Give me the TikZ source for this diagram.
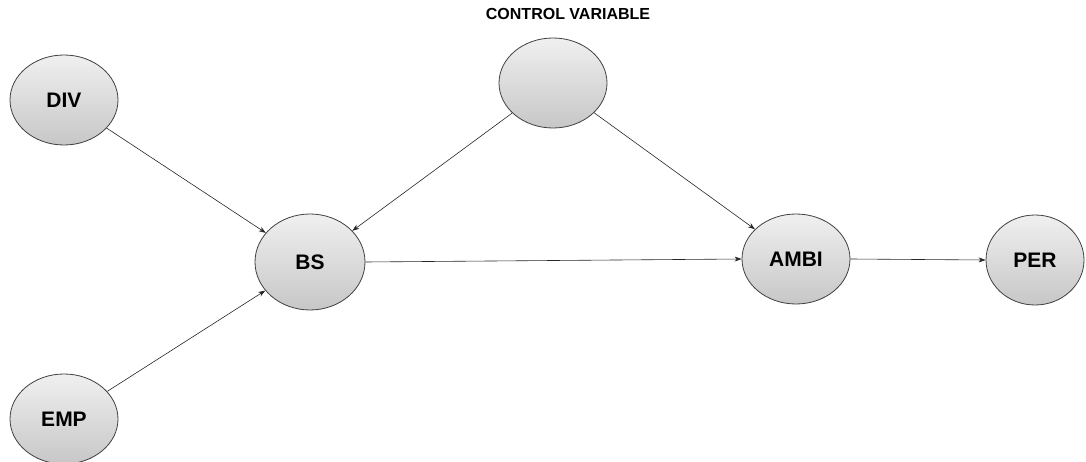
\documentclass[tikz,border=0pt]{standalone}
\usepackage{fontspec}
\setmainfont{Liberation Sans}
\usetikzlibrary{shapes.geometric,arrows.meta}
\begin{document}
\begin{tikzpicture}[x=1pt,y=-1pt,
  var/.style={ellipse,draw=black!75,line width=0.8pt,top color=black!6,bottom color=black!22,
    minimum width=108pt,minimum height=90pt,inner sep=0pt,font=\bfseries\fontsize{21}{24}\selectfont},
  link/.style={draw=black!85,line width=0.6pt,-{Stealth[length=7pt,width=5pt]}}]
\useasboundingbox (0,0) rectangle (1086,462);
\node[var] (div) at (64,100) {DIV};
\node[var] (emp) at (64,419) {EMP};
\node[var,minimum width=110pt,minimum height=96pt] (bs) at (310,262) {BS};
\node[var] (cv) at (553,83) {};
\node[var] (ambi) at (796,259) {AMBI};
\node[var,minimum width=98pt] (per) at (1035,260) {PER};
\node[font=\bfseries\fontsize{16}{18}\selectfont] (title) at (568,14) {CONTROL VARIABLE};
\draw[link] (div) -- (bs);
\draw[link] (emp) -- (bs);
\draw[link] (cv) -- (bs);
\draw[link] (cv) -- (ambi);
\draw[link] (bs.east) -- (ambi.west);
\draw[link] (ambi.east) -- (per.west);
\end{tikzpicture}
\end{document}
